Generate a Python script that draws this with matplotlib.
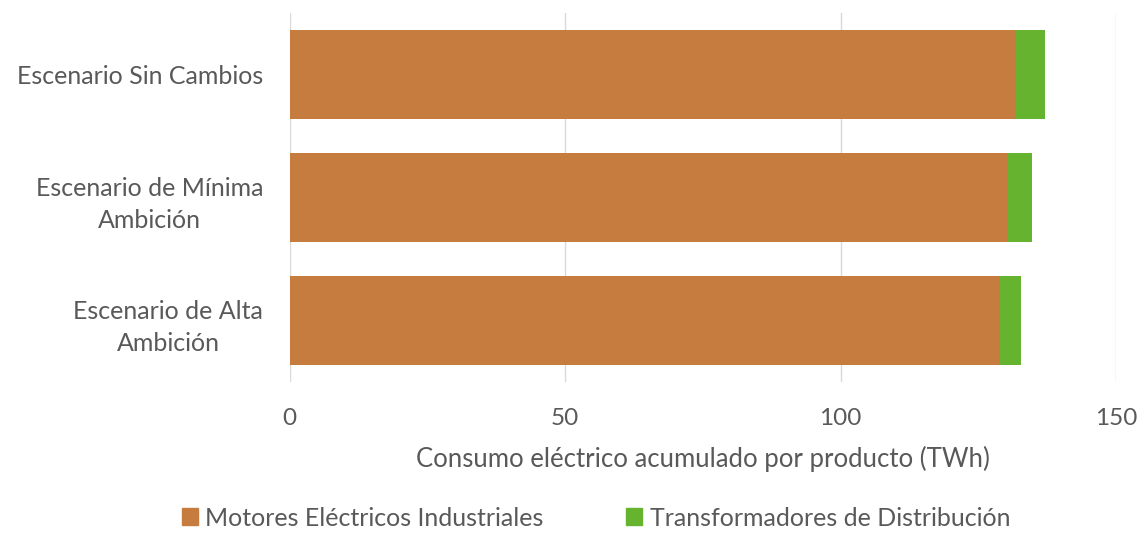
import matplotlib.pyplot as plt
from matplotlib.patches import Patch

# data
escenarios = ['Escenario Sin Cambios', 'Escenario de Mínima\nAmbición', 'Escenario de Alta\nAmbición']
motores = [131.8, 130.4, 129.0]
transformadores = [5.3, 4.3, 3.7]
series = ['Motores Eléctricos Industriales', 'Transformadores de Distribución']
colores = ['#C67C3E', '#65B32E']
ticks_x = [0, 50, 100, 150]

plt.rcParams['font.family'] = ['Lato', 'DejaVu Sans']
gris = '#595959'

fig = plt.figure(figsize=(11.43, 5.4), dpi=100)
ax = fig.add_axes([0.2534, 0.2926, 0.7230, 0.6828])

pos = [2, 1, 0]
ax.barh(pos, motores, height=0.72, color=colores[0], zorder=2)
ax.barh(pos, transformadores, left=motores, height=0.72, color=colores[1], zorder=2)

ax.set_xlim(0, 150)
ax.set_ylim(-0.5, 2.5)
ax.set_xticks(ticks_x)
ax.set_yticks(pos)
ax.set_yticklabels(escenarios, multialignment='center', linespacing=1.5)
for sp in ax.spines.values():
    sp.set_visible(False)
ax.grid(axis='x', color='#D9D9D9', linewidth=1, zorder=0)
ax.tick_params(axis='both', length=0, labelcolor=gris)
ax.tick_params(axis='y', pad=19, labelsize=18)
ax.tick_params(axis='x', pad=19, labelsize=17.5)
ax.set_xlabel('Consumo eléctrico acumulado por producto (TWh)', fontsize=18.5, color=gris, labelpad=12)

handles = [Patch(color=c) for c in colores]
fig.legend(handles, series, loc='center', bbox_to_anchor=(596 / 1143, 1 - 518 / 540),
           ncol=2, frameon=False, fontsize=18, labelcolor=gris,
           handlelength=0.65, handleheight=0.65, handletextpad=0.3, columnspacing=3.3)

fig.savefig('out.png', dpi=100)
